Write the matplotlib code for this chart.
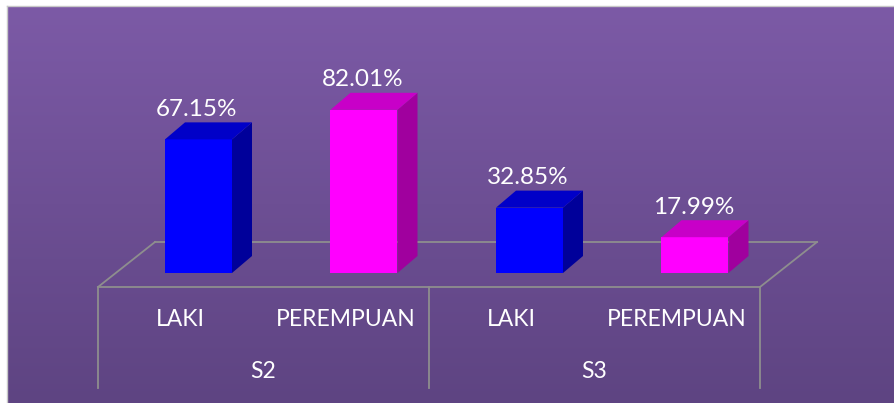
import numpy as np
import matplotlib.pyplot as plt
from matplotlib.patches import Polygon, Rectangle
from matplotlib.colors import LinearSegmentedColormap

plt.rcParams['font.family'] = ['Lato', 'DejaVu Sans']

# data
groups = ["S2", "S3"]
categories = ["LAKI", "PEREMPUAN", "LAKI", "PEREMPUAN"]
values = [67.15, 82.01, 32.85, 17.99]
labels = ["67.15%", "82.01%", "32.85%", "17.99%"]

front_cols = ["#0000FF", "#FF00FF", "#0000FF", "#FF00FF"]
top_cols = ["#0000C8", "#C800C8", "#0000C8", "#C800C8"]
side_cols = ["#00009A", "#A0009E", "#00009A", "#A0009E"]

W, H = 895, 403
fig = plt.figure(figsize=(W / 100, H / 100), dpi=100)
fig.patch.set_facecolor("white")

# axes: x in category units, y in percent (bar base at 0)
px_per_cat = 165.5
px_per_pct = 1.99
x0_px, y0_px = 180.75, 273
ax = fig.add_axes([0, 0, 1, 1])
ax.set_xlim(-x0_px / px_per_cat, (W - x0_px) / px_per_cat)
ax.set_ylim((y0_px - H) / px_per_pct, y0_px / px_per_pct)
ax.axis("off")

def px2x(p):
    return (p - x0_px) / px_per_cat

def py2y(p):
    return (y0_px - p) / px_per_pct

# background gradient
grad = np.linspace(0, 1, 256).reshape(-1, 1)
cmap = LinearSegmentedColormap.from_list("bg", ["#7C5AA6", "#5E4482"])
ax.imshow(grad, cmap=cmap, aspect="auto", zorder=0,
          extent=[px2x(7), px2x(W), py2y(H), py2y(6)], origin="upper")
ax.plot([px2x(7), px2x(7)], [py2y(6), py2y(H)], color="#C8C8C8", lw=1, zorder=1)
ax.plot([px2x(7), px2x(W)], [py2y(6), py2y(6)], color="#C8C8C8", lw=1, zorder=1)

# floor
n = len(categories)
fl_front = py2y(287)
fl_back = py2y(242)
fdx = 57 / px_per_cat
line_c = "#8E8E8E"
ax.plot([-0.5, n - 0.5], [fl_front, fl_front], color=line_c, lw=1.3, zorder=2)
ax.plot([-0.5 + fdx, n - 0.5 + fdx], [fl_back, fl_back], color=line_c, lw=1.3, zorder=2)
ax.plot([-0.5, -0.5 + fdx], [fl_front, fl_back], color=line_c, lw=1.3, zorder=2)
ax.plot([n - 0.5, n - 0.5 + fdx], [fl_front, fl_back], color=line_c, lw=1.3, zorder=2)
div_bottom = py2y(388)
for xd in [-0.5, 1.5, 3.5]:
    ax.plot([xd, xd], [fl_front, div_bottom], color=line_c, lw=1.3, zorder=2)

# 3D bars
off = 17.75 / px_per_cat
hw = 33.5 / px_per_cat
ddx = 20 / px_per_cat
ddy = 17 / px_per_pct
for i, v in enumerate(values):
    xl = i + off - hw
    xr = i + off + hw
    ax.add_patch(Rectangle((xl, 0), xr - xl, v, facecolor=front_cols[i], edgecolor="none", zorder=3))
    ax.add_patch(Polygon([(xr, 0), (xr + ddx, ddy), (xr + ddx, v + ddy), (xr, v)],
                         closed=True, facecolor=side_cols[i], edgecolor="none", zorder=3))
    ax.add_patch(Polygon([(xl, v), (xr, v), (xr + ddx, v + ddy), (xl + ddx, v + ddy)],
                         closed=True, facecolor=top_cols[i], edgecolor="none", zorder=3))
    ax.text(i + off - 0.01, v + ddy + 6.5, labels[i], color="white", fontsize=17.5,
            ha="center", va="center", zorder=4)

# category and group labels
for i, c in enumerate(categories):
    ax.text(i, py2y(320), c, color="white", fontsize=16.5, ha="center", va="center", zorder=4)
for g, name in enumerate(groups):
    ax.text(2 * g + 0.5, py2y(372), name, color="white", fontsize=16.5,
            ha="center", va="center", zorder=4)

fig.savefig("out.png", dpi=100)
